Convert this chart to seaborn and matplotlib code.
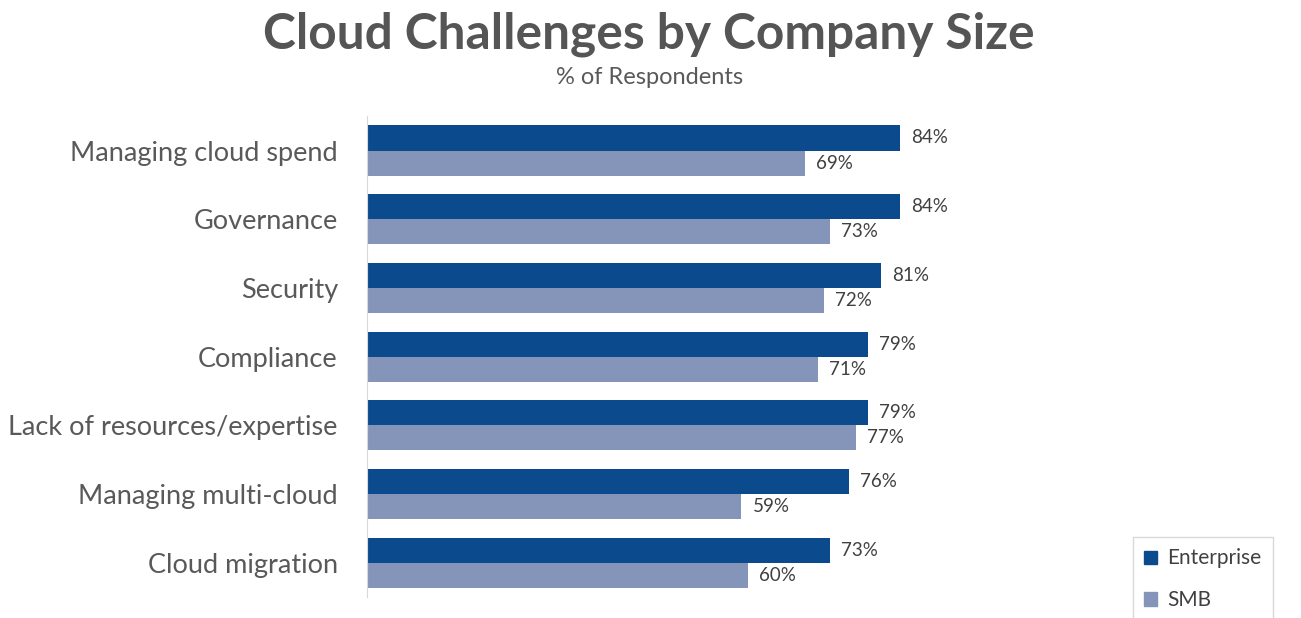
import numpy as np
import pandas as pd
import seaborn as sns
import matplotlib.pyplot as plt

categories = ['Managing cloud spend', 'Governance', 'Security', 'Compliance',
              'Lack of resources/expertise', 'Managing multi-cloud', 'Cloud migration']
enterprise = [84, 84, 81, 79, 79, 76, 73]
smb = [69, 73, 72, 71, 77, 59, 60]
groups = ['Enterprise', 'SMB']
colors = ['#0b4a8c', '#8595ba']

df = pd.DataFrame({
    'challenge': categories * 2,
    'pct': enterprise + smb,
    'size': ['Enterprise'] * len(categories) + ['SMB'] * len(categories),
})

sns.set_style('white')
plt.rcParams['font.family'] = ['Lato', 'DejaVu Sans']

fig = plt.figure(figsize=(13.01, 6.18), dpi=100)
ax = fig.add_axes([0.2821, 0.034, 0.4877, 0.778])

sns.barplot(
    data = df,
    y = 'challenge',
    x = 'pct',
    hue = 'size',
    hue_order = groups,
    palette = colors,
    orient = 'h',
    width = 0.73,
    gap = 0,
    saturation = 1,
    linewidth = 0,
    ax = ax,
    legend = True,
)

# value labels
for cont in ax.containers:
    ax.bar_label(cont, labels=[f'{int(v)}%' for v in cont.datavalues],
                 padding=8, fontsize=13.5, color='#404040')

ax.set_xlim(0, 100)
ax.set_ylim(6.5, -0.5)
ax.set_xlabel('')
ax.set_ylabel('')
ax.set_xticks([])
ax.tick_params(axis='y', length=0, pad=21, labelsize=19.5, labelcolor='#595959')
for s in ['top', 'right', 'bottom']:
    ax.spines[s].set_visible(False)
ax.spines['left'].set_color('#d9d9d9')

ax.get_legend().remove()
handles = [plt.Rectangle((0, 0), 1, 1, color=c) for c in colors]
leg = fig.legend(handles, groups, loc='upper left',
                 bbox_to_anchor=(1133 / 1301, 1 - 537 / 618),
                 frameon=True, fontsize=15, handlelength=0.6, handleheight=0.6,
                 labelspacing=1.05, borderpad=0.55, handletextpad=0.5,
                 labelcolor='#404040', fancybox=False, borderaxespad=0)
leg.get_frame().set_edgecolor('#d0d0d0')
leg.get_frame().set_linewidth(1)

fig.text(0.499, 0.945, 'Cloud Challenges by Company Size', ha='center', va='center',
         fontsize=35.7, fontweight='bold', color='#555555')
fig.text(0.499, 0.874, '% of Respondents', ha='center', va='center',
         fontsize=17, color='#595959')

fig.savefig('out.png', dpi=100)
